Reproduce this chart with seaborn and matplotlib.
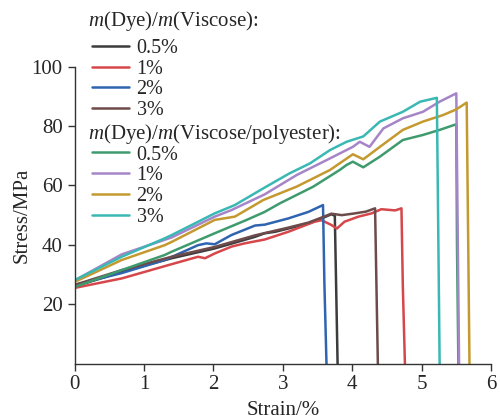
import matplotlib
matplotlib.use("Agg")
import matplotlib.pyplot as plt
import seaborn as sns
import pandas as pd
import numpy as np

sns.set_style("ticks")
plt.rcParams['font.family'] = ['Liberation Serif', 'DejaVu Serif']
plt.rcParams['mathtext.fontset'] = 'custom'
plt.rcParams['mathtext.it'] = 'Liberation Serif:italic'
plt.rcParams['mathtext.rm'] = 'Liberation Serif'

labels = ["0.5%", "1%", "2%", "3%"]
group_titles = [r"$m$(Dye)/$m$(Viscose):", r"$m$(Dye)/$m$(Viscose/polyester):"]

# Viscose series (strain %, stress MPa)
v05_x = [0.0, 0.68, 1.40, 2.02, 2.60, 2.74, 2.89, 3.08, 3.37, 3.56, 3.70, 3.75, 3.77, 3.79]
v05_y = [26.0, 30.9, 35.5, 38.8, 42.7, 43.9, 44.4, 45.5, 47.2, 48.9, 50.3, 49.8, 25.0, 0.0]

v1_x = [0.0, 0.68, 1.40, 1.78, 1.88, 2.02, 2.26, 2.45, 2.74, 3.08, 3.46, 3.56, 3.70, 3.78, 3.89, 4.09, 4.28, 4.42, 4.62, 4.71, 4.73, 4.76]
v1_y = [25.5, 28.7, 33.5, 36.0, 35.5, 37.1, 39.4, 40.5, 41.8, 44.4, 47.8, 48.3, 46.7, 45.5, 47.8, 49.5, 50.6, 52.0, 51.6, 52.3, 26.0, 0.0]

v2_x = [0.0, 0.68, 1.30, 1.78, 1.90, 2.02, 2.26, 2.60, 2.74, 3.08, 3.37, 3.58, 3.60, 3.63]
v2_y = [26.5, 30.5, 34.9, 39.9, 40.5, 40.2, 43.3, 46.5, 46.8, 48.9, 51.1, 53.4, 27.0, 0.0]

v3_x = [0.0, 0.68, 1.40, 2.02, 2.60, 3.08, 3.37, 3.56, 3.70, 3.85, 4.04, 4.20, 4.33, 4.35, 4.37]
v3_y = [26.5, 31.5, 36.0, 39.3, 43.2, 45.8, 47.5, 49.2, 50.5, 50.0, 50.6, 51.2, 52.3, 26.0, 0.0]

# Viscose/polyester series
p05_x = [0.0, 0.68, 1.30, 1.40, 2.02, 2.48, 2.74, 2.96, 3.44, 3.82, 3.92, 4.01, 4.16, 4.40, 4.73, 5.02, 5.26, 5.50, 5.51, 5.53]
p05_y = [25.8, 31.5, 36.6, 37.7, 43.9, 48.4, 51.1, 54.0, 59.6, 65.2, 66.9, 68.0, 66.1, 69.7, 75.3, 77.0, 78.7, 80.6, 40.0, 0.0]

p1_x = [0.0, 0.68, 1.40, 2.02, 2.26, 2.74, 3.20, 3.68, 4.01, 4.11, 4.25, 4.45, 4.73, 5.02, 5.26, 5.50, 5.52, 5.54]
p1_y = [28.0, 36.8, 42.5, 49.5, 51.7, 57.0, 63.5, 69.1, 73.0, 74.7, 73.0, 79.2, 82.6, 84.8, 88.2, 91.0, 45.0, 0.0]

p2_x = [0.0, 0.68, 1.30, 1.40, 2.02, 2.31, 2.72, 3.20, 3.68, 4.01, 4.16, 4.40, 4.73, 5.02, 5.31, 5.50, 5.65, 5.67, 5.69]
p2_y = [27.5, 34.9, 39.9, 41.0, 48.4, 49.5, 55.1, 59.6, 65.2, 70.5, 68.8, 73.0, 78.7, 81.5, 83.7, 85.6, 87.9, 44.0, 0.0]

p3_x = [0.0, 0.68, 1.30, 1.40, 2.02, 2.31, 2.74, 3.10, 3.39, 3.68, 3.92, 4.16, 4.40, 4.73, 4.98, 5.22, 5.24, 5.26]
p3_y = [28.1, 36.0, 42.2, 43.3, 50.6, 53.4, 59.3, 64.1, 67.4, 71.9, 74.7, 76.5, 81.5, 84.8, 88.2, 89.5, 45.0, 0.0]

xs = [v05_x, v1_x, v2_x, v3_x, p05_x, p1_x, p2_x, p3_x]
ys = [v05_y, v1_y, v2_y, v3_y, p05_y, p1_y, p2_y, p3_y]
names = ["V 0.5%", "V 1%", "V 2%", "V 3%", "P 0.5%", "P 1%", "P 2%", "P 3%"]
colors = ["#3c3c3c", "#d6474b", "#2f64b0", "#6e4b4b", "#3f9b6e", "#a585c8", "#c49a30", "#3ab8b4"]

frames = []
for n, x, y in zip(names, xs, ys):
    frames.append(pd.DataFrame({"strain": x, "stress": y, "series": n}))
df = pd.concat(frames, ignore_index=True)

fig = plt.figure(figsize=(5.0, 4.19), dpi=100)
ax = fig.add_axes([0.149, 0.132, 0.833, 0.709])

sns.lineplot(data=df, x="strain", y="stress", hue="series", palette=dict(zip(names, colors)),
             hue_order=names, sort=False, estimator=None, linewidth=1.8, legend=False, ax=ax)

ax.set_xlim(0, 6)
ax.set_ylim(0, 100)
ax.set_xticks(range(0, 7))
ax.set_yticks([20, 40, 60, 80, 100])
ax.tick_params(labelsize=15, direction="out", length=5, width=1.0, color="#333333")
ax.set_xlabel("Strain/%", fontsize=15, labelpad=5)
ax.set_ylabel("Stress/MPa", fontsize=15, labelpad=0)
sns.despine(ax=ax)
for s in ["left", "bottom"]:
    ax.spines[s].set_linewidth(1.0)
    ax.spines[s].set_color("#333333")

lines = ax.get_lines()
kw = dict(frameon=False, fontsize=14.5, handlelength=1.85, handletextpad=0.36, labelspacing=0.08,
          borderpad=0.0, loc="upper left")
fig.text(0.176, 1 - 21 / 419, group_titles[0], fontsize=15, va="center", ha="left")
fig.text(0.176, 1 - 134 / 419, group_titles[1], fontsize=15, va="center", ha="left")
leg1 = fig.legend(lines[:4], labels, bbox_to_anchor=(0.164, 0.931), **kw)
leg2 = fig.legend(lines[4:8], labels, bbox_to_anchor=(0.164, 0.677), **kw)

fig.savefig("out.png", dpi=100)
